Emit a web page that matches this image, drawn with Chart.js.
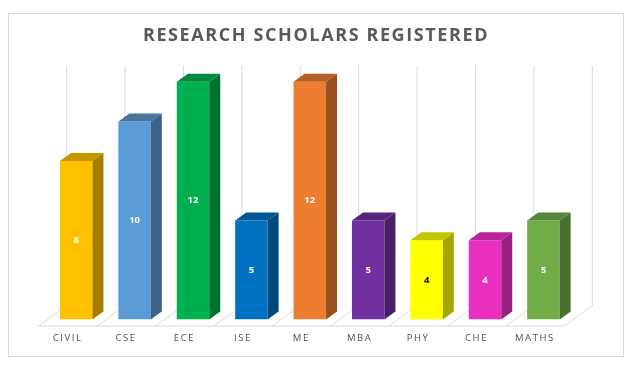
<!DOCTYPE html>
<html>
<head>
<meta charset="utf-8">
<style>
  html, body { margin: 0; padding: 0; background: #fff; }
  #wrap { width: 634px; height: 371px; }
</style>
<script src="https://cdn.jsdelivr.net/npm/chart.js@4"></script>
</head>
<body>
<div id="wrap"><canvas id="grafico"></canvas></div>
<script>
const categories = ['CIVIL', 'CSE', 'ECE', 'ISE', 'ME', 'MBA', 'PHY', 'CHE', 'MATHS'];
const scholars = [8, 10, 12, 5, 12, 5, 4, 4, 5];
const frontColors = ['#FFC000', '#5B9BD5', '#00B050', '#0070C0', '#ED7D31', '#7030A0', '#FFFF00', '#EA2FBE', '#70AD47'];
const sideColors = ['#A67D00', '#3B6488', '#00722F', '#00497D', '#9A5120', '#491F68', '#A6A600', '#982080', '#496F2E'];
const topColors = ['#C49700', '#47759F', '#008A3F', '#005794', '#B65F26', '#57257C', '#C4C400', '#B8259A', '#57853A'];
const labelColors = ['#fff', '#fff', '#fff', '#fff', '#fff', '#fff', '#000', '#fff', '#fff'];

const gridColor = '#D9D9D9';

// caras laterales y superiores de las barras, mas piso y lineas del fondo
const efecto3d = {
  id: 'efecto3d',
  beforeDraw(chart) {
    const ctx = chart.ctx;
    ctx.strokeStyle = gridColor;
    ctx.lineWidth = 1;
    ctx.strokeRect(8.5, 13.5, 615, 343);
    ctx.letterSpacing = '1.6px';
  },
  beforeDatasetsDraw(chart) {
    const ctx = chart.ctx;
    const { x, y } = chart.scales;
    const base = y.getPixelForValue(0);
    const step = x.getPixelForValue(1) - x.getPixelForValue(0);
    const floorFront = base + 6.5;
    const floorBack = base - 14;
    ctx.save();
    ctx.strokeStyle = gridColor;
    ctx.lineWidth = 1;
    ctx.beginPath();
    ctx.moveTo(x.left - 8.5, floorFront);
    ctx.lineTo(x.right - 8.5, floorFront);
    categories.concat('').forEach((c, i) => {
      const edge = x.left + step * i;
      ctx.moveTo(edge - 8.5, floorFront);
      ctx.lineTo(edge + 19.7, floorBack);
      ctx.lineTo(edge + 19.7, y.top);
    });
    ctx.stroke();
    ctx.restore();
  },
  afterDatasetsDraw(chart) {
    const ctx = chart.ctx;
    const dx = 11, dy = 8;
    ctx.save();
    ctx.letterSpacing = '0px';
    chart.getDatasetMeta(0).data.forEach((bar, i) => {
      const l = bar.x - bar.width / 2, r = bar.x + bar.width / 2;
      ctx.fillStyle = sideColors[i];
      ctx.beginPath();
      ctx.moveTo(r, bar.y);
      ctx.lineTo(r + dx, bar.y - dy);
      ctx.lineTo(r + dx, bar.base - dy);
      ctx.lineTo(r, bar.base);
      ctx.closePath();
      ctx.fill();
      ctx.fillStyle = topColors[i];
      ctx.beginPath();
      ctx.moveTo(l, bar.y);
      ctx.lineTo(l + dx, bar.y - dy);
      ctx.lineTo(r + dx, bar.y - dy);
      ctx.lineTo(r, bar.y);
      ctx.closePath();
      ctx.fill();
      ctx.fillStyle = labelColors[i];
      ctx.font = 'bold 9.5px "Open Sans"';
      ctx.textAlign = 'center';
      ctx.textBaseline = 'middle';
      ctx.fillText(scholars[i], bar.x, (bar.y + bar.base) / 2);
    });
    ctx.restore();
  }
};

new Chart(document.getElementById('grafico'), {
  type: 'bar',
  data: {
    labels: categories,
    datasets: [{
      label: 'Research scholars',
      data: scholars,
      backgroundColor: frontColors,
      categoryPercentage: 1,
      barPercentage: 0.556
    }]
  },
  options: {
    responsive: true,
    maintainAspectRatio: false,
    animation: false,
    layout: { padding: { left: 9, right: 11, top: 0, bottom: 14 } },
    plugins: {
      legend: { display: false },
      tooltip: { enabled: false },
      title: {
        display: true,
        text: 'RESEARCH SCHOLARS REGISTERED',
        color: '#595959',
        font: { family: '"Open Sans"', size: 18, weight: 'bold' },
        padding: { top: 25, bottom: 19.4 }
      }
    },
    scales: {
      x: {
        grid: { display: false, drawTicks: false },
        border: { display: false },
        ticks: {
          color: '#505050',
          font: { family: '"Open Sans"', size: 9.5 },
          padding: 13,
          labelOffset: -8.5,
          maxRotation: 0,
          autoSkip: false
        }
      },
      y: {
        min: 0,
        max: 12.8,
        grid: { display: false },
        border: { display: false },
        ticks: { display: false },
        afterFit: s => { s.width = 38; }
      },
      yDer: {
        position: 'right',
        grid: { display: false },
        border: { display: false },
        ticks: { display: false },
        afterFit: s => { s.width = 50.4; }
      }
    }
  },
  plugins: [efecto3d]
});
</script>
</body>
</html>
